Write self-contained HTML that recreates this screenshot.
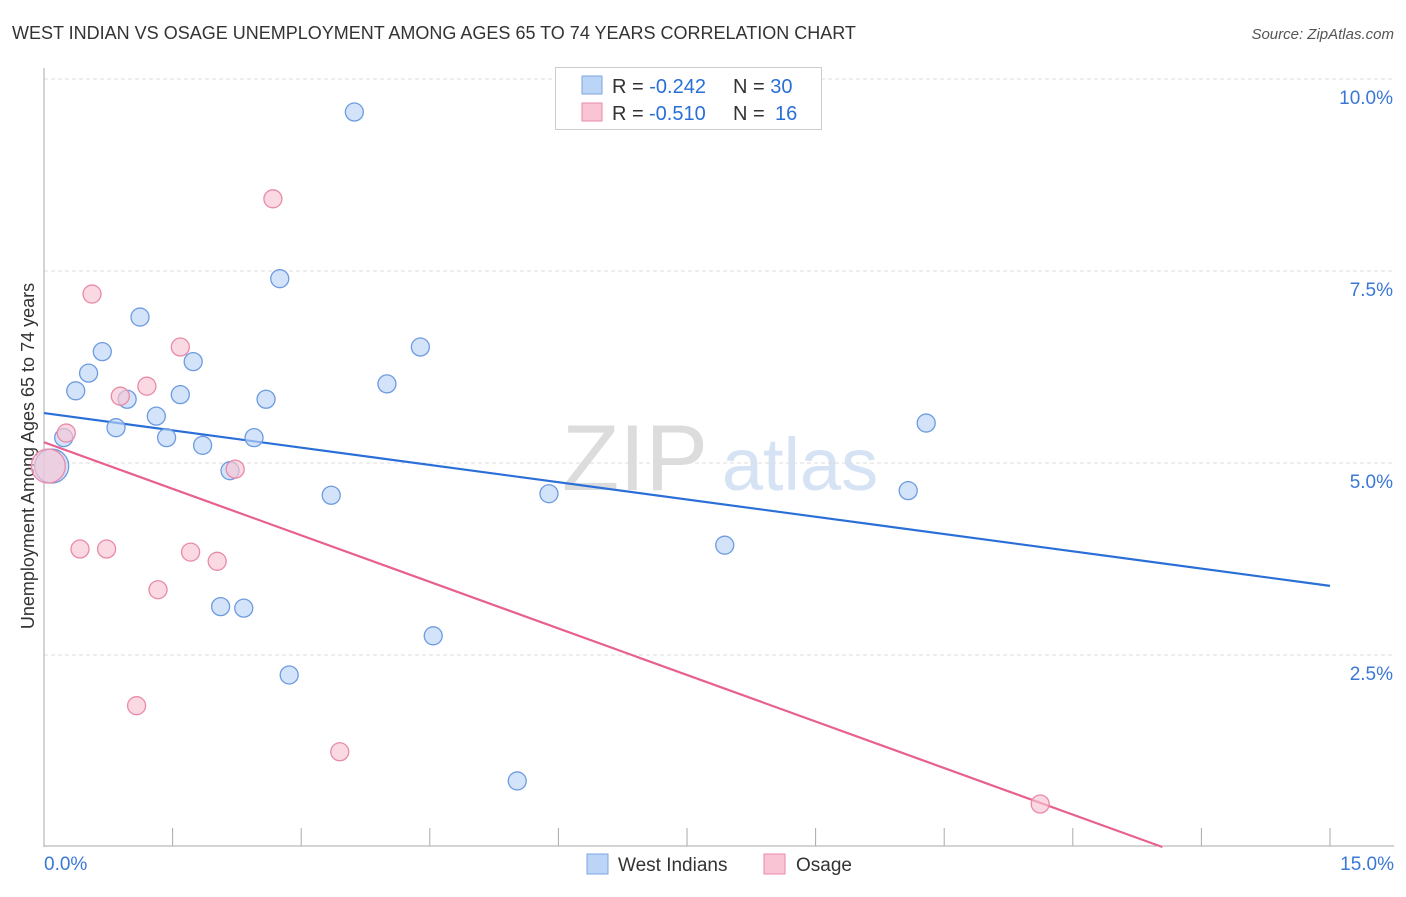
<!DOCTYPE html>
<html><head><meta charset="utf-8">
<style>
body{margin:0;background:#fff;font-family:"Liberation Sans",sans-serif;}
svg text{font-family:"Liberation Sans",sans-serif;}
</style></head>
<body>
<svg id="chart" width="1406" height="892" xmlns="http://www.w3.org/2000/svg">
<text x="12" y="39" font-size="18" fill="#333">WEST INDIAN VS OSAGE UNEMPLOYMENT AMONG AGES 65 TO 74 YEARS CORRELATION CHART</text>
<text x="1394" y="39" font-size="15" fill="#555" text-anchor="end" font-style="italic">Source: ZipAtlas.com</text>
<text transform="translate(34,456) rotate(-90)" font-size="18" fill="#333" text-anchor="middle">Unemployment Among Ages 65 to 74 years</text>
<g>
<text x="635" y="490" font-size="94" fill="#dcdcdc" text-anchor="middle" font-family="Liberation Serif, serif">ZIP</text>
<text x="800" y="490" font-size="74" fill="#d6e3f5" text-anchor="middle">atlas</text>
</g>
<g id="grid"></g>
<g id="axes"></g>
<g id="lines"></g>
<g id="points"></g>
<g>
<rect x="555.5" y="67.5" width="266" height="62" fill="#fff" stroke="#ccc"/>
<rect x="582" y="76" width="20" height="18" fill="#bcd4f6" stroke="#7aa6e0"/>
<rect x="582" y="103" width="20" height="18" fill="#f9c5d4" stroke="#e88aa8"/>
<text x="612" y="93" font-size="20" fill="#333">R = <tspan fill="#2a6fd8">-0.242</tspan><tspan x="733">N = </tspan><tspan fill="#2a6fd8">30</tspan></text>
<text x="612" y="120" font-size="20" fill="#333">R = <tspan fill="#2a6fd8" x="649">-0.510</tspan><tspan x="733">N = </tspan><tspan fill="#2a6fd8" x="775">16</tspan></text>
</g>
<g>
<rect x="587" y="854" width="21" height="20" fill="#bcd4f6" stroke="#7aa6e0"/>
<text x="618" y="871" font-size="19" fill="#333">West Indians</text>
<rect x="764" y="854" width="21" height="20" fill="#f9c5d4" stroke="#e88aa8"/>
<text x="796" y="871" font-size="19" fill="#333">Osage</text>
</g>
</svg>
<script>
const yTicks=[2.5,5.0,7.5,10.0];
const yTickLabels=["2.5%","5.0%","7.5%","10.0%"];
const xTickLabels=["0.0%","15.0%"];
const westX=[3.62,2.75,1.12,0.68,0.52,1.74,4.39,0.37,0.97,1.59,2.59,4.00,1.31,0.84,0.23,1.43,2.45,1.85,2.17,0.09,10.29,3.35,5.89,10.08,7.94,2.06,2.33,4.54,2.86,5.52];
const westY=[9.57,7.40,6.90,6.45,6.17,6.32,6.51,5.94,5.83,5.89,5.83,6.03,5.61,5.46,5.33,5.33,5.33,5.23,4.90,4.96,5.52,4.58,4.60,4.64,3.93,3.13,3.11,2.75,2.24,0.86];
const westSize=[1,1,1,1,1,1,1,1,1,1,1,1,1,1,1,1,1,1,1,2,1,1,1,1,1,1,1,1,1,1];
const osageX=[2.67,0.56,1.59,1.20,0.89,0.26,0.05,2.23,0.42,0.73,1.71,2.02,1.33,1.08,3.45,11.62];
const osageY=[8.44,7.20,6.51,6.00,5.87,5.39,4.96,4.92,3.88,3.88,3.84,3.72,3.35,1.84,1.24,0.56];
const osageSize=[1,1,1,1,1,1,2,1,1,1,1,1,1,1,1,1];
const westTrend=[5.65,-0.15];
const osageTrend=[5.27,-0.404];
const NS="http://www.w3.org/2000/svg";
const X=v=>44+v/15*1286, Y=v=>847-v/2.5*192;
function mk(t,a,p){const e=document.createElementNS(NS,t);for(const k in a)e.setAttribute(k,a[k]);p.appendChild(e);return e;}
const grid=document.getElementById('grid'),axes=document.getElementById('axes'),lines=document.getElementById('lines'),pts=document.getElementById('points');
yTicks.forEach((t,i)=>{
 const l=mk('line',{x1:44,x2:1394,y1:Y(t),y2:Y(t),stroke:'#ddd','stroke-dasharray':'4,3'},grid);
 
 
 const tx=mk('text',{x:1393,y:Y(t)+25,'font-size':19,fill:'#3a78d8','text-anchor':'end'},axes);
 tx.textContent=yTickLabels[i];
 
 
});
const ya=mk('line',{x1:44,x2:44,y1:68,y2:847,stroke:'#aaa'},axes);


const xa=mk('line',{x1:44,x2:1394,y1:846,y2:846,stroke:'#aaa'},axes);


for(let i=0;i<=10;i++){const t=mk('line',{x1:X(i*1.5),x2:X(i*1.5),y1:828,y2:846,stroke:'#aaa'},axes);
 
 }
[[0,'start',44],[15,'end',1394]].forEach((d,i)=>{const t=mk('text',{x:d[2],y:870,'font-size':19,fill:'#3a78d8','text-anchor':d[1]},axes);t.textContent=xTickLabels[i];
 
 });
function drawPts(xs,ys,sz,fill,stroke,name){xs.forEach((x,i)=>{const c=mk('circle',{cx:X(x),cy:Y(ys[i]),r:sz[i]>1?17:9,fill:fill,'fill-opacity':0.65,stroke:stroke,'stroke-width':1.3},pts);
 
 });}
drawPts(westX,westY,westSize,'#bcd4f6','#6d9be0','west-indians-point');
drawPts(osageX,osageY,osageSize,'#f9c5d4','#e88aa8','osage-point');
function trend(p,col,name){let x2=15;if(p[0]+p[1]*x2<0)x2=-p[0]/p[1];
 const l=mk('line',{x1:X(0),y1:Y(p[0]),x2:X(x2),y2:Y(p[0]+p[1]*x2),stroke:col,'stroke-width':2.2},lines);
 
 }
trend(westTrend,'#2a6fd8','west-indians-trend-line');
trend(osageTrend,'#e8608e','osage-trend-line');
</script>
</body></html>
